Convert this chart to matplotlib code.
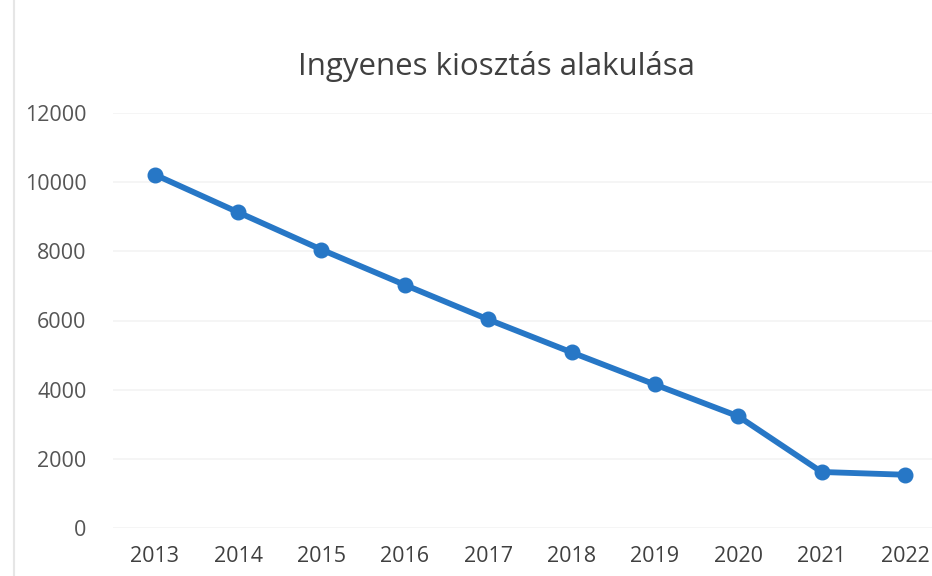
import matplotlib
matplotlib.use("Agg")
import matplotlib.pyplot as plt
from matplotlib.lines import Line2D

years = ["2013", "2014", "2015", "2016", "2017", "2018", "2019", "2020", "2021", "2022"]
values = [10220, 9130, 8050, 7030, 6030, 5080, 4150, 3230, 1620, 1540]
yticks = [0, 2000, 4000, 6000, 8000, 10000, 12000]
title = "Ingyenes kiosztás alakulása"

plt.rcParams['font.family'] = ['Open Sans', 'DejaVu Sans']

fig = plt.figure(figsize=(9.32, 5.76), dpi=100)
fig.patch.set_facecolor('white')

# plot area: x from 113px to right edge, y from 528px (0) to 113px (12000)
ax = fig.add_axes([113 / 932, 48 / 576, (932 - 113) / 932, 415 / 576])
xs = list(range(len(years)))
ax.plot(xs, values, color='#2777C6', linewidth=4.2, marker='o',
        markersize=10.5, solid_capstyle='round', zorder=3)

ax.set_xlim(-0.5, (932 - 155) / 83.33)
ax.set_ylim(0, 12000)
ax.set_yticks(yticks)
ax.set_yticklabels([str(v) for v in yticks], fontsize=15.5, color='#555555')
ax.set_xticks(xs)
ax.set_xticklabels(years, fontsize=15.5, color='#404040')
ax.tick_params(axis='both', length=0)
ax.tick_params(axis='y', pad=19)
ax.tick_params(axis='x', pad=13)

ax.grid(axis='y', color='#f3f3f3', linewidth=1.2)
ax.set_axisbelow(True)
for s in ax.spines.values():
    s.set_visible(False)

fig.text(496 / 932, 1 - 66 / 576, title, ha='center', va='center',
         fontsize=22.5, color='#404040')

# faint scan border on the left
fig.add_artist(Line2D([14 / 932, 14 / 932], [0, 1], color='#e6e6e6',
                      linewidth=1.5, transform=fig.transFigure))

fig.savefig("out.png", dpi=100, facecolor='white')
